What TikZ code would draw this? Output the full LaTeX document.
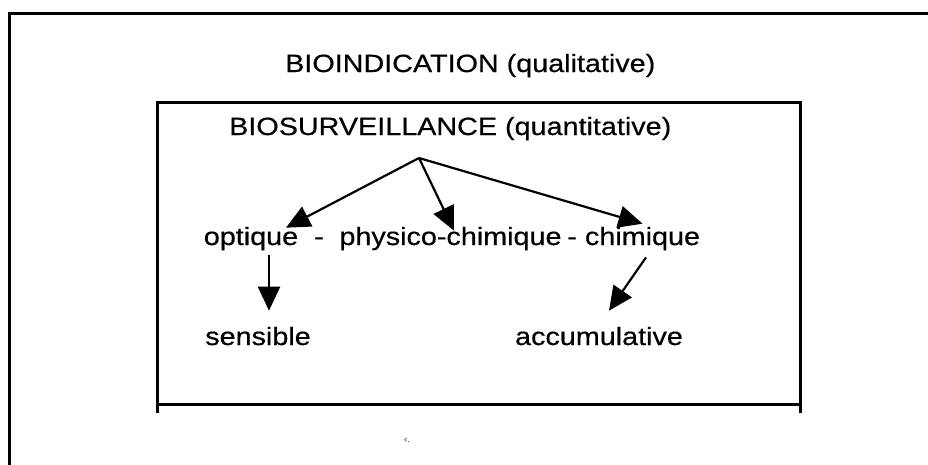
\documentclass[tikz,border=0pt]{standalone}
\usepackage{fontspec}
\setmainfont{Liberation Sans}[FakeStretch=1.15,FakeBold=0.5]
\usetikzlibrary{arrows.meta}
\tikzset{
  lbl/.style={anchor=base, inner sep=0pt, font=\fontsize{25}{30}\selectfont},
  frame/.style={line width=3pt, line cap=rect},
  arr/.style={line width=2.2pt, -{Triangle[length=24pt,width=22pt]}}
}
\begin{document}
\begin{tikzpicture}[x=1pt,y=-1pt]
\useasboundingbox (0,0) rectangle (928,464);
% outer frame (partly shown)
\draw[frame] (928,13) -- (9,13) -- (9,464);
% inner box
\draw[frame] (157,411) -- (157,102) -- (800,102) -- (800,411);
\draw[frame] (157,404) -- (800,404);
% texts
\node[lbl, anchor=base west] (bioind) at (285,72) {BIOINDICATION (qualitative)};
\node[lbl, anchor=base west] (biosurv) at (229,135) {BIOSURVEILLANCE (quantitative)};
\node[lbl] (opt) at (251,245) {optique};
\node[lbl] (d1) at (319,245) {-};
\node[lbl] (phy) at (450.5,245) {physico-chimique};
\node[lbl] (d2) at (572,245) {-};
\node[lbl] (chi) at (642.5,245) {chimique};
\node[lbl] (sens) at (258,345) {sensible};
\node[lbl] (accu) at (599,345) {accumulative};
\node[anchor=base, inner sep=0pt, font=\fontsize{9}{10}\selectfont, text=black!55] (mark) at (407,442) {‹.};
% connectors
\coordinate (apex) at (419,158);
\draw[arr] (apex) -- ([xshift=35pt,yshift=-1pt]opt.north);
\draw[arr] (apex) -- ([xshift=3.5pt,yshift=-4pt]phy.north);
\draw[arr] (apex) -- ([yshift=3pt]chi.north);
\draw[arr] ([xshift=18pt,yshift=-5pt]opt.south) -- ([xshift=11pt,yshift=16pt]sens.north);
\draw[arr] ([xshift=3.5pt,yshift=-7pt]chi.south) -- ([xshift=10pt,yshift=16pt]accu.north);
\end{tikzpicture}
\end{document}
